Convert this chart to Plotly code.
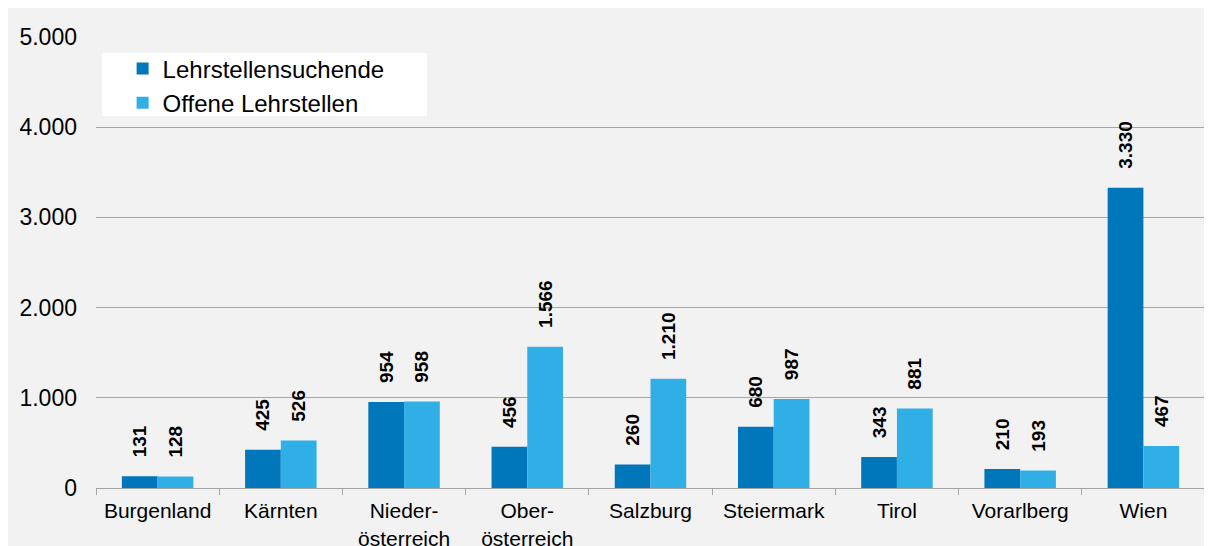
import plotly.graph_objects as go

categories = ["Burgenland", "Kärnten", "Nieder-<br>österreich", "Ober-<br>österreich",
              "Salzburg", "Steiermark", "Tirol", "Vorarlberg", "Wien"]
suchende = [131, 425, 954, 456, 260, 680, 343, 210, 3330]
offene = [128, 526, 958, 1566, 1210, 987, 881, 193, 467]
series_names = ["Lehrstellensuchende", "Offene Lehrstellen"]
y_ticks = [0, 1000, 2000, 3000, 4000, 5000]

DARK = "#0077BA"
LIGHT = "#2FAFE5"
FONT = "Liberation Sans, Arial, sans-serif"

fig = go.Figure()
for name, vals, col in [(series_names[0], suchende, DARK), (series_names[1], offene, LIGHT)]:
    fig.add_trace(go.Bar(
        x=categories, y=vals, name=name,
        marker=dict(color=col, line=dict(width=0)),
        texttemplate="\u00a0\u00a0\u00a0%{y:,d}",
        textposition="outside", textangle=-90,
        textfont=dict(family=FONT, size=19, color="#000000", weight="bold"),
        cliponaxis=False, constraintext="none",
    ))

# legend box
fig.add_shape(type="rect", xref="paper", yref="paper",
              x0=0.0054, x1=0.2985, y0=0.8248, y1=0.9645,
              fillcolor="#ffffff", line=dict(width=0), layer="below")

fig.update_layout(
    width=1212, height=546,
    margin=dict(l=88, r=15, t=29, b=66),
    paper_bgcolor="#f2f2f2", plot_bgcolor="#f2f2f2",
    separators=",.",
    barmode="group", bargap=0.42, bargroupgap=0,
    font=dict(family=FONT, size=19, color="#000000"),
    showlegend=True,
    legend=dict(x=0.024, y=0.979, xanchor="left", yanchor="top",
                bgcolor="rgba(0,0,0,0)", borderwidth=0,
                font=dict(family=FONT, size=24, color="#000000"),
                tracegroupgap=0),
    xaxis=dict(showline=True, linecolor="#a6a6a6", linewidth=1,
               ticks="outside", tickson="boundaries", ticklen=6, tickcolor="#a6a6a6",
               tickfont=dict(family=FONT, size=21, color="#000000"),
               ticklabelstandoff=4, automargin=False,
               showgrid=False),
    yaxis=dict(range=[0, 5000], tickvals=y_ticks, tickformat=",d",
               showgrid=True, gridcolor="#a6a6a6", gridwidth=1,
               zeroline=False, showline=False, automargin=False,
               tickfont=dict(family=FONT, size=23, color="#000000"),
               ticklabelstandoff=18),
)

fig.write_html("out.html")
